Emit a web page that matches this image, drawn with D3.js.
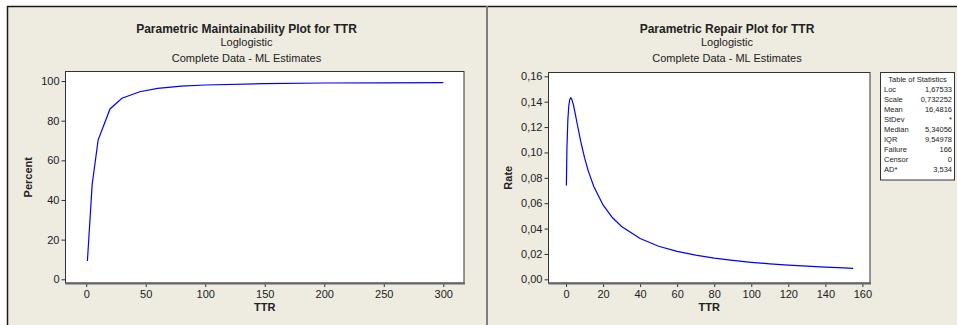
<!DOCTYPE html>
<html>
<head>
<meta charset="utf-8">
<script src="https://cdn.jsdelivr.net/npm/d3@7"></script>
<style>
  html, body { margin: 0; padding: 0; background: #fff; }
  svg { display: block; font-family: Arial, "Liberation Sans", sans-serif; }
</style>
</head>
<body>
<svg id="chart" width="957" height="325"></svg>
<script>
// maintainability curve (percent vs TTR)
const maintTTR = [1, 5, 10, 20, 30, 45, 60, 80, 100, 150, 200, 250, 300];
const maintPct = [9.2, 47.8, 70.2, 85.9, 91.3, 94.6, 96.3, 97.4, 98.0, 98.7, 99.0, 99.1, 99.2];

// repair rate curve
const repairTTR = [0.2, 0.5, 1, 1.5, 2, 2.5, 3, 4, 5, 6, 8, 10, 12, 15, 20, 25, 30, 40, 50, 60, 70, 80, 90, 100, 110, 120, 130, 140, 150, 155];
const repairRate = [0.074, 0.1035, 0.1258, 0.1366, 0.1416, 0.1430, 0.1424, 0.1375, 0.1304, 0.1228, 0.1083, 0.0959, 0.0855, 0.0732, 0.0586, 0.0487, 0.0416, 0.0321, 0.0261, 0.0220, 0.0190, 0.0167, 0.0149, 0.0134, 0.0122, 0.0112, 0.0104, 0.0096, 0.0090, 0.0087];

const maintXTicks = [0, 50, 100, 150, 200, 250, 300];
const maintYTicks = [0, 20, 40, 60, 80, 100];
const repairXTicks = [0, 20, 40, 60, 80, 100, 120, 140, 160];
const repairYTicks = [0, 0.02, 0.04, 0.06, 0.08, 0.10, 0.12, 0.14, 0.16];

const statLabels = ['Loc', 'Scale', 'Mean', 'StDev', 'Median', 'IQR', 'Failure', 'Censor', 'AD*'];
const statValues = ['1,67533', '0,732252', '16,4816', '*', '5,34056', '9,54978', '166', '0', '3,534'];

const svg = d3.select('#chart');
const bg = '#eeebe1';
const ink = '#222';

// background panels + frame
svg.append('rect').attr('x', 7).attr('y', 6).attr('width', 950).attr('height', 319).attr('fill', bg);
svg.append('line').attr('x1', 7).attr('x2', 957).attr('y1', 6.5).attr('y2', 6.5)
  .attr('stroke', '#1a1a1a').attr('stroke-width', 1.5);
svg.append('line').attr('x1', 7.5).attr('x2', 7.5).attr('y1', 6).attr('y2', 325)
  .attr('stroke', '#1a1a1a').attr('stroke-width', 1.5);
svg.append('line').attr('x1', 487).attr('x2', 487).attr('y1', 6).attr('y2', 325)
  .attr('stroke', '#7d7d7d').attr('stroke-width', 2);

function drawPanel(p) {
  const x = d3.scaleLinear().domain(p.xDomain).range([p.left, p.right]);
  const y = d3.scaleLinear().domain(p.yDomain).range([p.bottom, p.top]);

  // titles
  const t = svg.append('g').attr('text-anchor', 'middle').attr('fill', ink);
  t.append('text').attr('x', p.titleX).attr('y', 33).attr('font-size', 12).attr('font-weight', 'bold').text(p.title);
  t.append('text').attr('x', p.titleX).attr('y', 46).attr('font-size', 11).text('Loglogistic');
  t.append('text').attr('x', p.titleX).attr('y', 62).attr('font-size', 11).text('Complete Data - ML Estimates');

  // plot box
  svg.append('rect')
    .attr('x', p.left).attr('y', p.top)
    .attr('width', p.right - p.left).attr('height', p.bottom - p.top)
    .attr('fill', '#fff').attr('stroke', '#333').attr('stroke-width', 1);

  // axes
  const xAxis = d3.axisBottom(x).tickValues(p.xTicks).tickSize(4).tickPadding(3).tickFormat(d3.format('d'));
  const yAxis = d3.axisLeft(y).tickValues(p.yTicks).tickSize(4).tickPadding(2).tickFormat(p.yFormat);

  const gx = svg.append('g').attr('transform', `translate(0,${p.bottom})`).call(xAxis);
  const gy = svg.append('g').attr('transform', `translate(${p.left},0)`).call(yAxis);
  [gx, gy].forEach(g => {
    g.select('.domain').remove();
    g.selectAll('.tick line').attr('stroke', '#333');
    g.selectAll('.tick text').attr('fill', ink).attr('font-size', 11)
      .attr('font-family', 'Arial, "Liberation Sans", sans-serif');
  });

  // thicker grey bottom axis line
  svg.append('line')
    .attr('x1', p.left).attr('x2', p.right + 1)
    .attr('y1', p.bottom + 0.5).attr('y2', p.bottom + 0.5)
    .attr('stroke', '#666').attr('stroke-width', 2);

  // axis titles
  svg.append('text')
    .attr('x', (p.left + p.right) / 2).attr('y', 311)
    .attr('text-anchor', 'middle').attr('font-size', 11).attr('font-weight', 'bold').attr('fill', ink)
    .text('TTR');
  svg.append('text')
    .attr('transform', `translate(${p.yLabelX},${(p.top + p.bottom) / 2}) rotate(-90)`)
    .attr('text-anchor', 'middle').attr('font-size', 11).attr('font-weight', 'bold').attr('fill', ink)
    .text(p.yLabel);

  // curve
  const line = d3.line().x(d => x(d[0])).y(d => y(d[1]));
  svg.append('path')
    .datum(d3.zip(p.xs, p.ys))
    .attr('d', line)
    .attr('fill', 'none')
    .attr('stroke', '#0000ff')
    .attr('stroke-width', 1.2);
}

drawPanel({
  title: 'Parametric Maintainability Plot for TTR',
  titleX: 246.5,
  left: 65.5, right: 464, top: 71.5, bottom: 283,
  xDomain: [-17.4, 317.4], yDomain: [-1.87, 104.8],
  xTicks: maintXTicks, yTicks: maintYTicks,
  yFormat: d3.format('d'),
  yLabel: 'Percent', yLabelX: 32,
  xs: maintTTR, ys: maintPct
});

const commaFmt = d => d3.format('.2f')(d).replace('.', ',');
drawPanel({
  title: 'Parametric Repair Plot for TTR',
  titleX: 727,
  left: 548.5, right: 870, top: 72.5, bottom: 283,
  xDomain: [-9.45, 164.1], yDomain: [-0.0029, 0.163],
  xTicks: repairXTicks, yTicks: repairYTicks,
  yFormat: commaFmt,
  yLabel: 'Rate', yLabelX: 512,
  xs: repairTTR, ys: repairRate
});

// table of statistics
const tb = svg.append('g');
tb.append('rect').attr('x', 880.5).attr('y', 72.5).attr('width', 74).attr('height', 107.5)
  .attr('fill', '#fff').attr('stroke', '#333').attr('stroke-width', 1);
tb.append('text').attr('x', 917.5).attr('y', 81.5).attr('text-anchor', 'middle')
  .attr('font-size', 7.5).attr('fill', ink).text('Table of Statistics');
statLabels.forEach((lab, i) => {
  const yy = 92 + i * 9.95;
  tb.append('text').attr('x', 884).attr('y', yy).attr('font-size', 7.5).attr('fill', ink).text(lab);
  tb.append('text').attr('x', 952).attr('y', yy).attr('text-anchor', 'end')
    .attr('font-size', 7.5).attr('fill', ink).text(statValues[i]);
});
</script>
</body>
</html>
